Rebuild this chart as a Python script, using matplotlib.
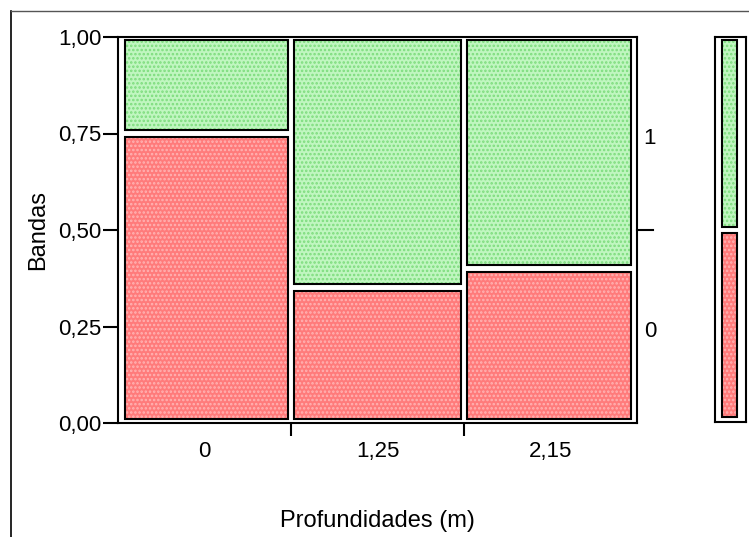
import matplotlib
matplotlib.use("Agg")
import matplotlib.pyplot as plt
from matplotlib.patches import Rectangle
from matplotlib.lines import Line2D

plt.rcParams['font.family'] = ['Liberation Sans', 'DejaVu Sans']
plt.rcParams['hatch.linewidth'] = 1.2

# Mosaic data: depth groups and share of each band level
depths = ["0", "1,25", "2,15"]
group_counts = [20, 20, 20]
share_band0 = [0.75, 0.35, 0.40]
band_levels = ["0", "1"]
y_ticks = [0.0, 0.25, 0.50, 0.75, 1.0]
y_tick_labels = ["0,00", "0,25", "0,50", "0,75", "1,00"]

W, H = 749, 537
fig = plt.figure(figsize=(W / 100, H / 100), dpi=100)

RED, RED_H = "#ff7b7b", "#ffb4b4"
GREEN, GREEN_H = "#c0f6c0", "#7cdc7c"
EDGE_LW = 1.5
FS = 16
FS_TITLE = 17


def px_axes(x0, x1, y0, y1):
    return fig.add_axes([x0 / W, 1 - y1 / H, (x1 - x0) / W, (y1 - y0) / H])


def tile(ax, x0, y0, x1, y1, face, hatch_col):
    ax.add_patch(Rectangle((x0, y0), x1 - x0, y1 - y0, facecolor=face,
                           edgecolor=hatch_col, hatch="....", lw=0))
    ax.add_patch(Rectangle((x0, y0), x1 - x0, y1 - y0, facecolor="none",
                           edgecolor="black", lw=EDGE_LW))


# Main mosaic panel
AX_L, AX_R, AX_T, AX_B = 118, 637, 37, 423
ax = px_axes(AX_L, AX_R, AX_T, AX_B)
ax.set_xlim(0, 1)
ax.set_ylim(0, 1)
pxx = 1 / (AX_R - AX_L)
pxy = 1 / (AX_B - AX_T)

total = sum(group_counts)
edges = [0.0]
for c in group_counts:
    edges.append(edges[-1] + c / total)

gx = 3.0 * pxx
gy = 3.5 * pxy
for i, p0 in enumerate(share_band0):
    left = edges[i] + (7 * pxx if i == 0 else gx)
    right = edges[i + 1] - (6 * pxx if i == len(group_counts) - 1 else gx)
    tile(ax, left, 4 * pxy, right, p0 - gy, RED, RED_H)
    tile(ax, left, p0 + gy, right, 1 - 3 * pxy, GREEN, GREEN_H)

for s in ax.spines.values():
    s.set_linewidth(1.5)
ax.set_yticks(y_ticks)
ax.set_yticklabels(y_tick_labels, fontsize=FS)
ax.tick_params(axis="y", length=11, width=1.5, pad=1)
ax.set_xticks(edges[1:-1])
ax.set_xticklabels([])
ax.tick_params(axis="x", length=9, width=1.5)
for i, lab in enumerate(depths):
    ax.text((edges[i] + edges[i + 1]) / 2, -0.075, lab, fontsize=FS,
            ha="center", va="center", transform=ax.transAxes)
ax.set_xlabel("Profundidades (m)", fontsize=FS_TITLE, labelpad=50)
ax.set_ylabel("Bandas", fontsize=FS_TITLE, labelpad=6)

# Right-hand level axis
overall0 = sum(c * p for c, p in zip(group_counts, share_band0)) / total
ax.plot([1, 1.03], [overall0, overall0], color="black", lw=1.5,
        transform=ax.transAxes, clip_on=False)
ax.text(1.013, overall0 / 2 - 0.012, band_levels[0], fontsize=FS,
        va="center", ha="left", transform=ax.transAxes)
ax.text(1.013, (1 + overall0) / 2 - 0.012, band_levels[1], fontsize=FS,
        va="center", ha="left", transform=ax.transAxes)

# Marginal bar of band levels
mx = px_axes(715, 746, 37, 422)
mx.set_xlim(0, 1)
mx.set_ylim(0, 1)
mpx = 1 / 31
mpy = 1 / 385
tile(mx, 7 * mpx, 5 * mpy, 22 * mpx, overall0 - 3 * mpy, RED, RED_H)
tile(mx, 7 * mpx, overall0 + 3 * mpy, 22 * mpx, 1 - 3 * mpy, GREEN, GREEN_H)
for s in mx.spines.values():
    s.set_linewidth(1.5)
mx.set_xticks([])
mx.set_yticks([])

# Outer frame lines of the report
fig.add_artist(Line2D([11 / W, 11 / W], [0, 1 - 11 / H], color="black",
                      lw=1.2, transform=fig.transFigure))
fig.add_artist(Line2D([11 / W, 1], [1 - 11 / H, 1 - 11 / H], color="#555555",
                      lw=1.0, transform=fig.transFigure))

fig.savefig("out.png", dpi=100)
